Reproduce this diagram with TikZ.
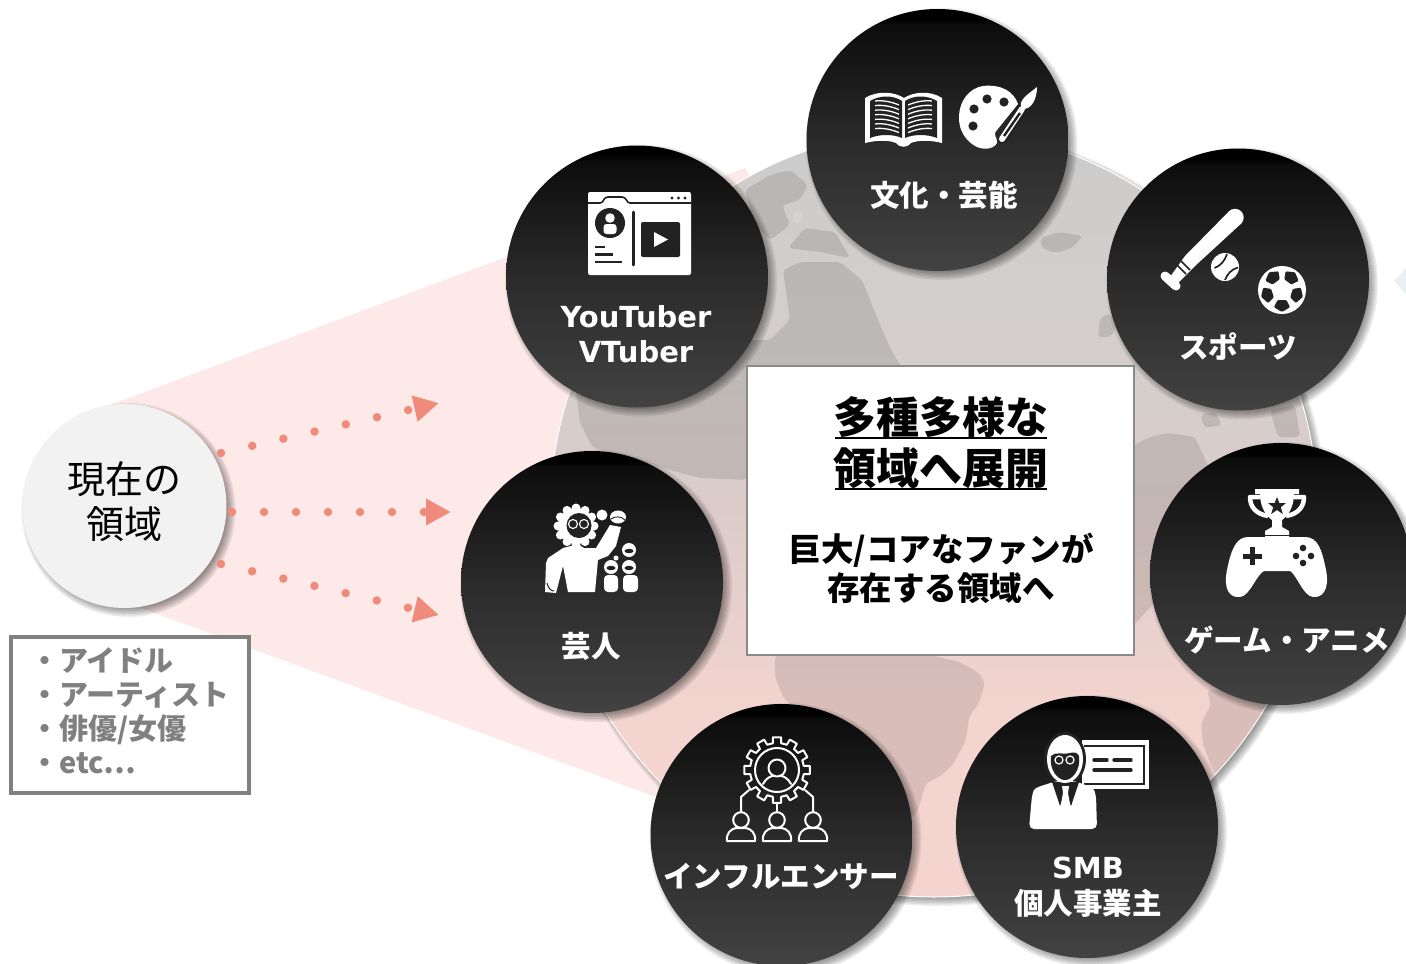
\documentclass[tikz,border=0pt]{standalone}
\usepackage{fontspec}
\setmainfont{Noto Sans CJK JP}
\newfontfamily\vfam{DejaVu Sans}
\usetikzlibrary{arrows.meta,shapes.geometric}
\pgfdeclareverticalshading{ballshade}{100bp}{rgb(0bp)=(.26,.26,.26); rgb(25bp)=(.26,.26,.26); rgb(50bp)=(.165,.165,.165); rgb(72bp)=(.05,.05,.05); rgb(73bp)=(0,0,0); rgb(100bp)=(0,0,0)}
\pgfdeclareverticalshading{globeshade}{100bp}{rgb(0bp)=(.96,.83,.81); rgb(25bp)=(.96,.83,.81); rgb(38bp)=(.95,.83,.81); rgb(50bp)=(.86,.80,.79); rgb(60bp)=(.83,.81,.80); rgb(75bp)=(.80,.80,.80); rgb(100bp)=(.80,.80,.80)}
\definecolor{salmon}{HTML}{F08A7B}
\definecolor{beampink}{HTML}{FDE9E7}
\definecolor{icdark}{HTML}{222222}
\definecolor{listgray}{HTML}{808080}
\definecolor{markblue}{HTML}{E8F0F3}
\definecolor{boxgray}{HTML}{8A8A8A}
\definecolor{curfill}{HTML}{F2F2F2}
\newcommand{\softshadow}[3]{\foreach \d in {-4,-2.5,-1,0.5,2,3.5,5}{\fill[black,opacity=.07] (#1+4,#2+4) circle ({#3+\d});}}
\tikzset{
  ball/.style={circle,minimum size=262pt,inner sep=0pt,shade,shading=ballshade},
  lbl/.style={text=white,inner sep=0pt,align=center,font=\fontsize{29.5}{35}\selectfont\bfseries},
  lat/.style={text=white,inner sep=0pt,align=center,font=\fontsize{29}{35}\selectfont\vfam\bfseries},
  dotline/.style={salmon,line width=8.5pt,line cap=round,dash pattern=on 0pt off 32pt,-{Triangle[length=25pt,width=25pt,fill=salmon]}},
  land/.style={black,opacity=.105,rounded corners=4pt},
  pale/.style={white,opacity=.12,rounded corners=3pt},
  wl/.style={white,line width=2pt,line join=round,line cap=round},
  dl/.style={icdark,line width=2.5pt,line cap=round},
}
\begin{document}
\begin{tikzpicture}[x=1pt,y=-1pt]
\useasboundingbox (0,0) rectangle (1406,964);
\fill[white] (0,0) rectangle (1406,964);
% beam
\fill[beampink] (110,405) -- (745,168) -- (934,513) -- (656,797) -- (141,608) -- cycle;
% side mark
\fill[markblue] (1394,281) -- (1406,268) -- (1406,294) -- cycle;
% globe
\softshadow{934}{513}{384}
\node[circle,minimum size=768pt,inner sep=0pt,shade,shading=globeshade,draw=white,line width=1pt] (globe) at (934,513) {};
\begin{scope}
\clip (934,513) circle (383.5);
% north america body
\fill[land] (783,270) -- (800,262) -- (840,262) -- (862,280) -- (878,320) -- (892,352) -- (905,372) -- (760,372) -- (747,480) -- (700,478) -- (640,462) -- (593,448) -- (580,423) -- (575,385) -- (640,340) -- (770,340) -- (790,320) -- cycle;
% canada pieces
\fill[land] (745,190) -- (770,175) -- (790,170) -- (808,185) -- (800,200) -- (782,205) -- (790,225) -- (770,240) -- (755,225) -- cycle;
\fill[land] (788,248) -- (805,228) -- (835,232) -- (850,258) -- (820,252) -- cycle;
\fill[pale] (792,215) -- (800,208) -- (804,220) -- (796,224) -- cycle;
% south america
\fill[land] (775,655) -- (775,677) -- (783,697) -- (811,725) -- (860,860) -- (917,813) -- (926,783) -- (942,775) -- (954,763) -- (966,740) -- (969,717) -- (979,703) -- (985,683) -- (979,673) -- (960,662) -- (942,658) -- (920,652) -- cycle;
% africa
\fill[land] (1134,445) -- (1150,437) -- (1167,433) -- (1195,437) -- (1210,470) -- (1175,590) -- (1157,600) -- (1134,625) -- cycle;
\fill[land] (1207,690) -- (1211,705) -- (1201,723) -- (1203,745) -- (1215,775) -- (1330,775) -- (1330,690) -- cycle;
% europe bits
\fill[land] (1040,238) -- (1060,232) -- (1083,236) -- (1072,248) -- (1055,253) -- (1042,248) -- cycle;
\fill[land] (1100,318) -- (1110,313) -- (1117,325) -- (1112,336) -- (1098,338) -- cycle;
\fill[land] (1270,410) -- (1295,405) -- (1300,437) -- (1278,437) -- cycle;
\fill[land] (1200,415) -- (1215,412) -- (1222,425) -- (1205,428) -- cycle;
\end{scope}
% center box
\node[draw=boxgray,fill=white,line width=1.5pt,minimum width=387pt,minimum height=289pt,inner sep=0pt] (mainbox) at (940.5,510.5) {};
\node[inner sep=0pt,font=\fontsize{43}{48}\selectfont\bfseries] (t1) at (941,417) {多種多様な};
\node[inner sep=0pt,font=\fontsize{43}{48}\selectfont\bfseries] (t2) at (941,468) {領域へ展開};
\draw[line width=2.5pt] (835,438) -- (1047,438);
\draw[line width=2.5pt] (835,489) -- (1047,489);
\node[inner sep=0pt,align=center,font=\fontsize{32.5}{39}\selectfont\bfseries] (t3) at (941,568.5) {巨大/コアなファンが\\存在する領域へ};
% left circle
\softshadow{124.5}{506}{102}
\node[circle,fill=curfill,minimum size=204pt,inner sep=0pt] (cur) at (124.5,506) {};
\node[inner sep=0pt,align=center,font=\fontsize{38}{45}\selectfont] (curt) at (124.5,501.5) {現在の\\領域};
% list box
\node[draw=listgray,line width=3.5pt,fill=white,minimum width=238pt,minimum height=156pt,inner sep=0pt] (listbox) at (130,715) {};
\node[anchor=west,inner sep=0pt,align=left,text=listgray,font=\fontsize{29}{34}\selectfont\bfseries] (listt) at (30,711) {・アイドル\\・アーティスト\\・俳優/女優\\・etc⋯};
% dotted arrows
\coordinate (a1s) at (221,453); \coordinate (a1e) at (439,403);
\coordinate (a2s) at (232,512); \coordinate (a2e) at (451,512);
\coordinate (a3s) at (221,564); \coordinate (a3e) at (439,615);
\draw[dotline] (a1s) -- (a1e);
\draw[dotline] (a2s) -- (a2e);
\draw[dotline] (a3s) -- (a3e);
% balls
\softshadow{937.5}{140}{131}
\node[ball] (b1) at (937.5,140) {};
\softshadow{637}{276.5}{131}
\node[ball] (b2) at (637,276.5) {};
\softshadow{1238}{279.5}{131}
\node[ball] (b3) at (1238,279.5) {};
\softshadow{1281}{574}{131}
\node[ball] (b4) at (1281,574) {};
\softshadow{592}{582}{131}
\node[ball] (b5) at (592,582) {};
\softshadow{1087}{827}{131}
\node[ball] (b6) at (1087,827) {};
\softshadow{781.5}{835}{131}
\node[ball] (b7) at (781.5,835) {};
% labels
\node[lbl] (l1) at (944,195) {文化・芸能};
\node[lat] (l2) at (636,334.5) {YouTuber\\VTuber};
\node[lbl] (l3) at (1238,347) {スポーツ};
\node[lbl] (l4) at (1287,640) {ゲーム・アニメ};
\node[lbl] (l5) at (591,646) {芸人};
\node[lbl] (l6) at (781,876) {インフルエンサー};
\node[lat] (l7) at (1088,868) {SMB};
\node[lbl] (l8) at (1088,903) {個人事業主};
% ---- book
\fill[white] (865,98) .. controls (878,90) and (895,92) .. (904,98) .. controls (913,92) and (930,90) .. (942,98) -- (942,143) .. controls (930,140) and (918,140) .. (911,143) .. controls (908,148) and (899,148) .. (896,143) .. controls (889,140) and (877,140) .. (865,143) -- cycle;
\fill[icdark] (870,101) .. controls (880,95) and (893,95) .. (902,101) -- (902,138) .. controls (893,134) and (880,134) .. (870,138) -- cycle;
\fill[icdark] (905,101) .. controls (914,95) and (927,95) .. (937,101) -- (937,138) .. controls (927,134) and (914,134) .. (905,138) -- cycle;
\foreach \k in {0,...,6}{
  \draw[white,line width=1.3pt] (875,{101+\k*4.6}) .. controls (883,{100+\k*4.6}) and (892,{102+\k*4.6}) .. (899,{105+\k*4.6});
  \draw[white,line width=1.3pt] (932,{101+\k*4.6}) .. controls (924,{100+\k*4.6}) and (915,{102+\k*4.6}) .. (908,{105+\k*4.6});
}
% ---- palette
\fill[white] (983,86) .. controls (1002,84) and (1014,92) .. (1018,104) -- (997,130) .. controls (992,135) and (998,138) .. (997,143) .. controls (993,150) and (982,150) .. (975,146) .. controls (965,140) and (959,130) .. (959,118) .. controls (959,100) and (970,88) .. (983,86) -- cycle;
\foreach \p/\q in {987/99,1004/102,974/109,973/126}{\fill[icdark] (\p,\q) circle (4.6);}
\draw[icdark,line width=9pt,line cap=round] (1023,109) -- (1003,139);
\draw[white,line width=6pt,line cap=round] (1022,109) -- (1002,139);
\draw[icdark,line width=2.4pt] (1020,113) -- (1004,136);
\fill[white] (1037,87) .. controls (1037,98) and (1032,110) .. (1022,109) .. controls (1017,101) and (1027,95) .. (1037,87) -- cycle;
% ---- youtube
\fill[white,rounded corners=2pt] (588,192) rectangle (691,275);
\draw[icdark,line width=1.6pt,line join=round] (588,203) -- (600,203) .. controls (604,203) and (603,197) .. (608,197) -- (622,197) .. controls (627,197) and (626,203) .. (630,203) -- (691,203);
\foreach \p in {672,678.5,685}{\fill[icdark] (\p,198) circle (1.7);}
\fill[icdark] (610,223) circle (15);
\fill[white] (610,218) circle (4.8);
\fill[white,rounded corners=3pt] (603.5,224) rectangle (616.5,234);
\draw[dl,line width=3pt] (633,212) -- (633,265);
\draw[dl,line cap=butt] (595,247) -- (605,247);
\draw[dl,line cap=butt] (595,254.5) -- (613,254.5);
\draw[dl,line cap=butt] (595,262) -- (622,262);
\fill[icdark,rounded corners=2pt] (641,222) rectangle (680,257);
\fill[white] (654,232) -- (654,247) -- (668,239.5) -- cycle;
% ---- bat
\fill[white] (1229,211.3) -- (1241,223.7) -- (1195,266) -- (1177,284) -- (1170,277) -- (1185,256) -- cycle;
\fill[white] (1235,217.5) circle (8.7);
\draw[white,line width=9pt,line cap=round] (1165,276) -- (1176,286);
\draw[icdark,line width=1.6pt] (1181,261) -- (1190,270);
\draw[icdark,line width=1.6pt] (1177,265) -- (1186,274);
\fill[white] (1225,267) circle (14);
\draw[icdark,line width=1.7pt] (1214.5,268) .. controls (1220,266) and (1225,261) .. (1227,254);
\draw[icdark,line width=1.7pt] (1225,280) .. controls (1227,274) and (1232,269) .. (1238,267.5);
% ---- soccer
\fill[white] (1282,290) circle (24);
\begin{scope}[shift={(1282,290)}]
\foreach \a in {54,126,198,270,342}{
  \fill[icdark,rounded corners=1pt] ({-\a}:10) -- ({-\a-24}:11) -- ({-\a-25}:19) -- ({-\a}:22) -- ({-\a+25}:19) -- ({-\a+24}:11) -- cycle;
}
\end{scope}
% ---- trophy
\draw[white,line width=4.5pt,line join=round] (1260,497) -- (1250,497) .. controls (1250,507) and (1256,514) .. (1268,516);
\draw[white,line width=4.5pt,line join=round] (1294,497) -- (1304,497) .. controls (1304,507) and (1298,514) .. (1286,516);
\fill[white] (1255,489) -- (1299,489) -- (1299,494) -- (1294,494) .. controls (1294,510) and (1285,518) .. (1282,520) -- (1282,527) -- (1289,531) -- (1289,540) -- (1265,540) -- (1265,531) -- (1272,527) -- (1272,520) .. controls (1269,518) and (1260,510) .. (1260,494) -- (1255,494) -- cycle;
\fill[icdark] (1277,497) -- (1279.3,503) -- (1286,503) -- (1280.8,507.2) -- (1282.8,514) -- (1277,510) -- (1271.2,514) -- (1273.2,507.2) -- (1268,503) -- (1274.7,503) -- cycle;
% ---- controller
\draw[icdark,line width=1.4pt] (1262,535.5) -- (1292,535.5);
\fill[white] (1248,537) -- (1305,537) .. controls (1318,537) and (1322,550) .. (1326,570) .. controls (1330,590) and (1322,598) .. (1313,597) .. controls (1303,596) and (1297,575) .. (1290,571) -- (1264,571) .. controls (1256,575) and (1250,596) .. (1240,597) .. controls (1230,598) and (1223,590) .. (1227,570) .. controls (1231,550) and (1236,537) .. (1248,537) -- cycle;
\draw[icdark,line width=5pt] (1243,556) -- (1262,556);
\draw[icdark,line width=5pt] (1252.5,547) -- (1252.5,565);
\foreach \p/\q in {1303/548,1303/563,1296/556,1311/556}{\fill[icdark] (\p,\q) circle (3.3);}
% ---- performer
\foreach \a in {0,30,...,330}{\fill[white] (576,526) ++(\a:18) circle (4.5);}
\fill[white] (576,526) circle (18);
\fill[icdark] (579,525.5) circle (12.5);
\draw[white,line width=1.1pt] (573,524) circle (4.5);
\draw[white,line width=1.1pt] (584,524) circle (4.5);
\fill[white,line join=round] (546,563) -- (548,558) -- (563,548) -- (578,544) -- (584,548) -- (596,548) -- (610,525) -- (621,527) -- (616,546) -- (608,556) -- (598,560) -- (595,592) -- (568,592) -- (563,566) -- (556,593) -- (545,592) -- cycle;
\draw[icdark,line width=1pt] (547,583) .. controls (548,588) and (551,591) .. (554,591);
\fill[white] (602,515) circle (5.5);
\fill[white] (618,517) ellipse (8 and 6.5);
\draw[icdark,line width=.9pt] (611,519) .. controls (615,516) and (621,516) .. (625,520);
\foreach \p/\q in {629/550,611/567,629/567}{\fill[white] (\p,\q) circle (7);\fill[icdark] (\p,\q+1) ellipse (4.5 and 2.2);}
\fill[white] (616,558) circle (2.5);
\fill[white,rounded corners=4pt] (604,575) rectangle (618,592);
\fill[white,rounded corners=4pt] (623,575) rectangle (638,592);
% ---- influencer
\begin{scope}[shift={(777,770)}]
\foreach \a in {0,30,...,330}{
  \draw[wl] ({\a-15}:27) -- ({\a-9}:27) -- ({\a-7}:33) -- ({\a+7}:33) -- ({\a+9}:27) -- ({\a+15}:27);
}
\draw[wl] (0,0) circle (22);
\draw[wl] (0,-2) circle (8.5);
\draw[wl] (-14,14) .. controls (-11,8) and (-6,6) .. (-3,5.5);
\draw[wl] (14,14) .. controls (11,8) and (6,6) .. (3,5.5);
\end{scope}
\coordinate (ctop) at (777,803);
\coordinate (lh) at (741,812); \coordinate (ch) at (777,812); \coordinate (rh) at (813,812);
\draw[wl] (ctop) -- (ch);
\draw[wl] (749,790) -- (741,797) -- (lh);
\draw[wl] (805,790) -- (813,797) -- (rh);
\foreach \c in {741,777,813}{
  \draw[wl] (\c,820) circle (7.8);
  \draw[wl] (\c-14,841) .. controls (\c-15,833) and (\c-10,829) .. (\c-5,828) -- (\c+5,828) .. controls (\c+10,829) and (\c+15,833) .. (\c+14,841) -- cycle;
}
% ---- teacher
\fill[white] (1082,740) rectangle (1149,789);
\draw[icdark,line width=1.8pt] (1084,746) -- (1144,746) -- (1144,784) -- (1084,784);
\draw[icdark,line width=3.4pt,line cap=round] (1094,760) -- (1107,760);
\draw[icdark,line width=3.4pt,line cap=round] (1114,760) -- (1131,760);
\draw[icdark,line width=3.4pt,line cap=round] (1094,770) -- (1131,770);
\fill[icdark] (1065,759) ellipse (21 and 27);
\fill[white,rounded corners=5pt] (1029,829) -- (1032,795) .. controls (1035,787) and (1045,785) .. (1056,781) -- (1075,781) .. controls (1085,785) and (1093,787) .. (1096,795) -- (1097,829) -- cycle;
\fill[icdark] (1052,782) -- (1060,806) -- (1065,792) -- (1071,806) -- (1079,782) -- cycle;
\fill[white] (1062,786) -- (1069,786) -- (1068,793) -- (1070,804) -- (1065,808) -- (1061,804) -- (1063,793) -- cycle;
\fill[white] (1065,759) ellipse (18 and 24);
\fill[icdark] (1051,756) .. controls (1056,751) and (1062,755) .. (1070,753) .. controls (1074,752) and (1077,752) .. (1079,756) .. controls (1081,770) and (1072,780) .. (1065,780) .. controls (1058,780) and (1049,770) .. (1051,756) -- cycle;
\draw[white,line width=1.2pt] (1059,760) circle (4);
\draw[white,line width=1.2pt] (1070,760) circle (4);
\end{tikzpicture}
\end{document}
